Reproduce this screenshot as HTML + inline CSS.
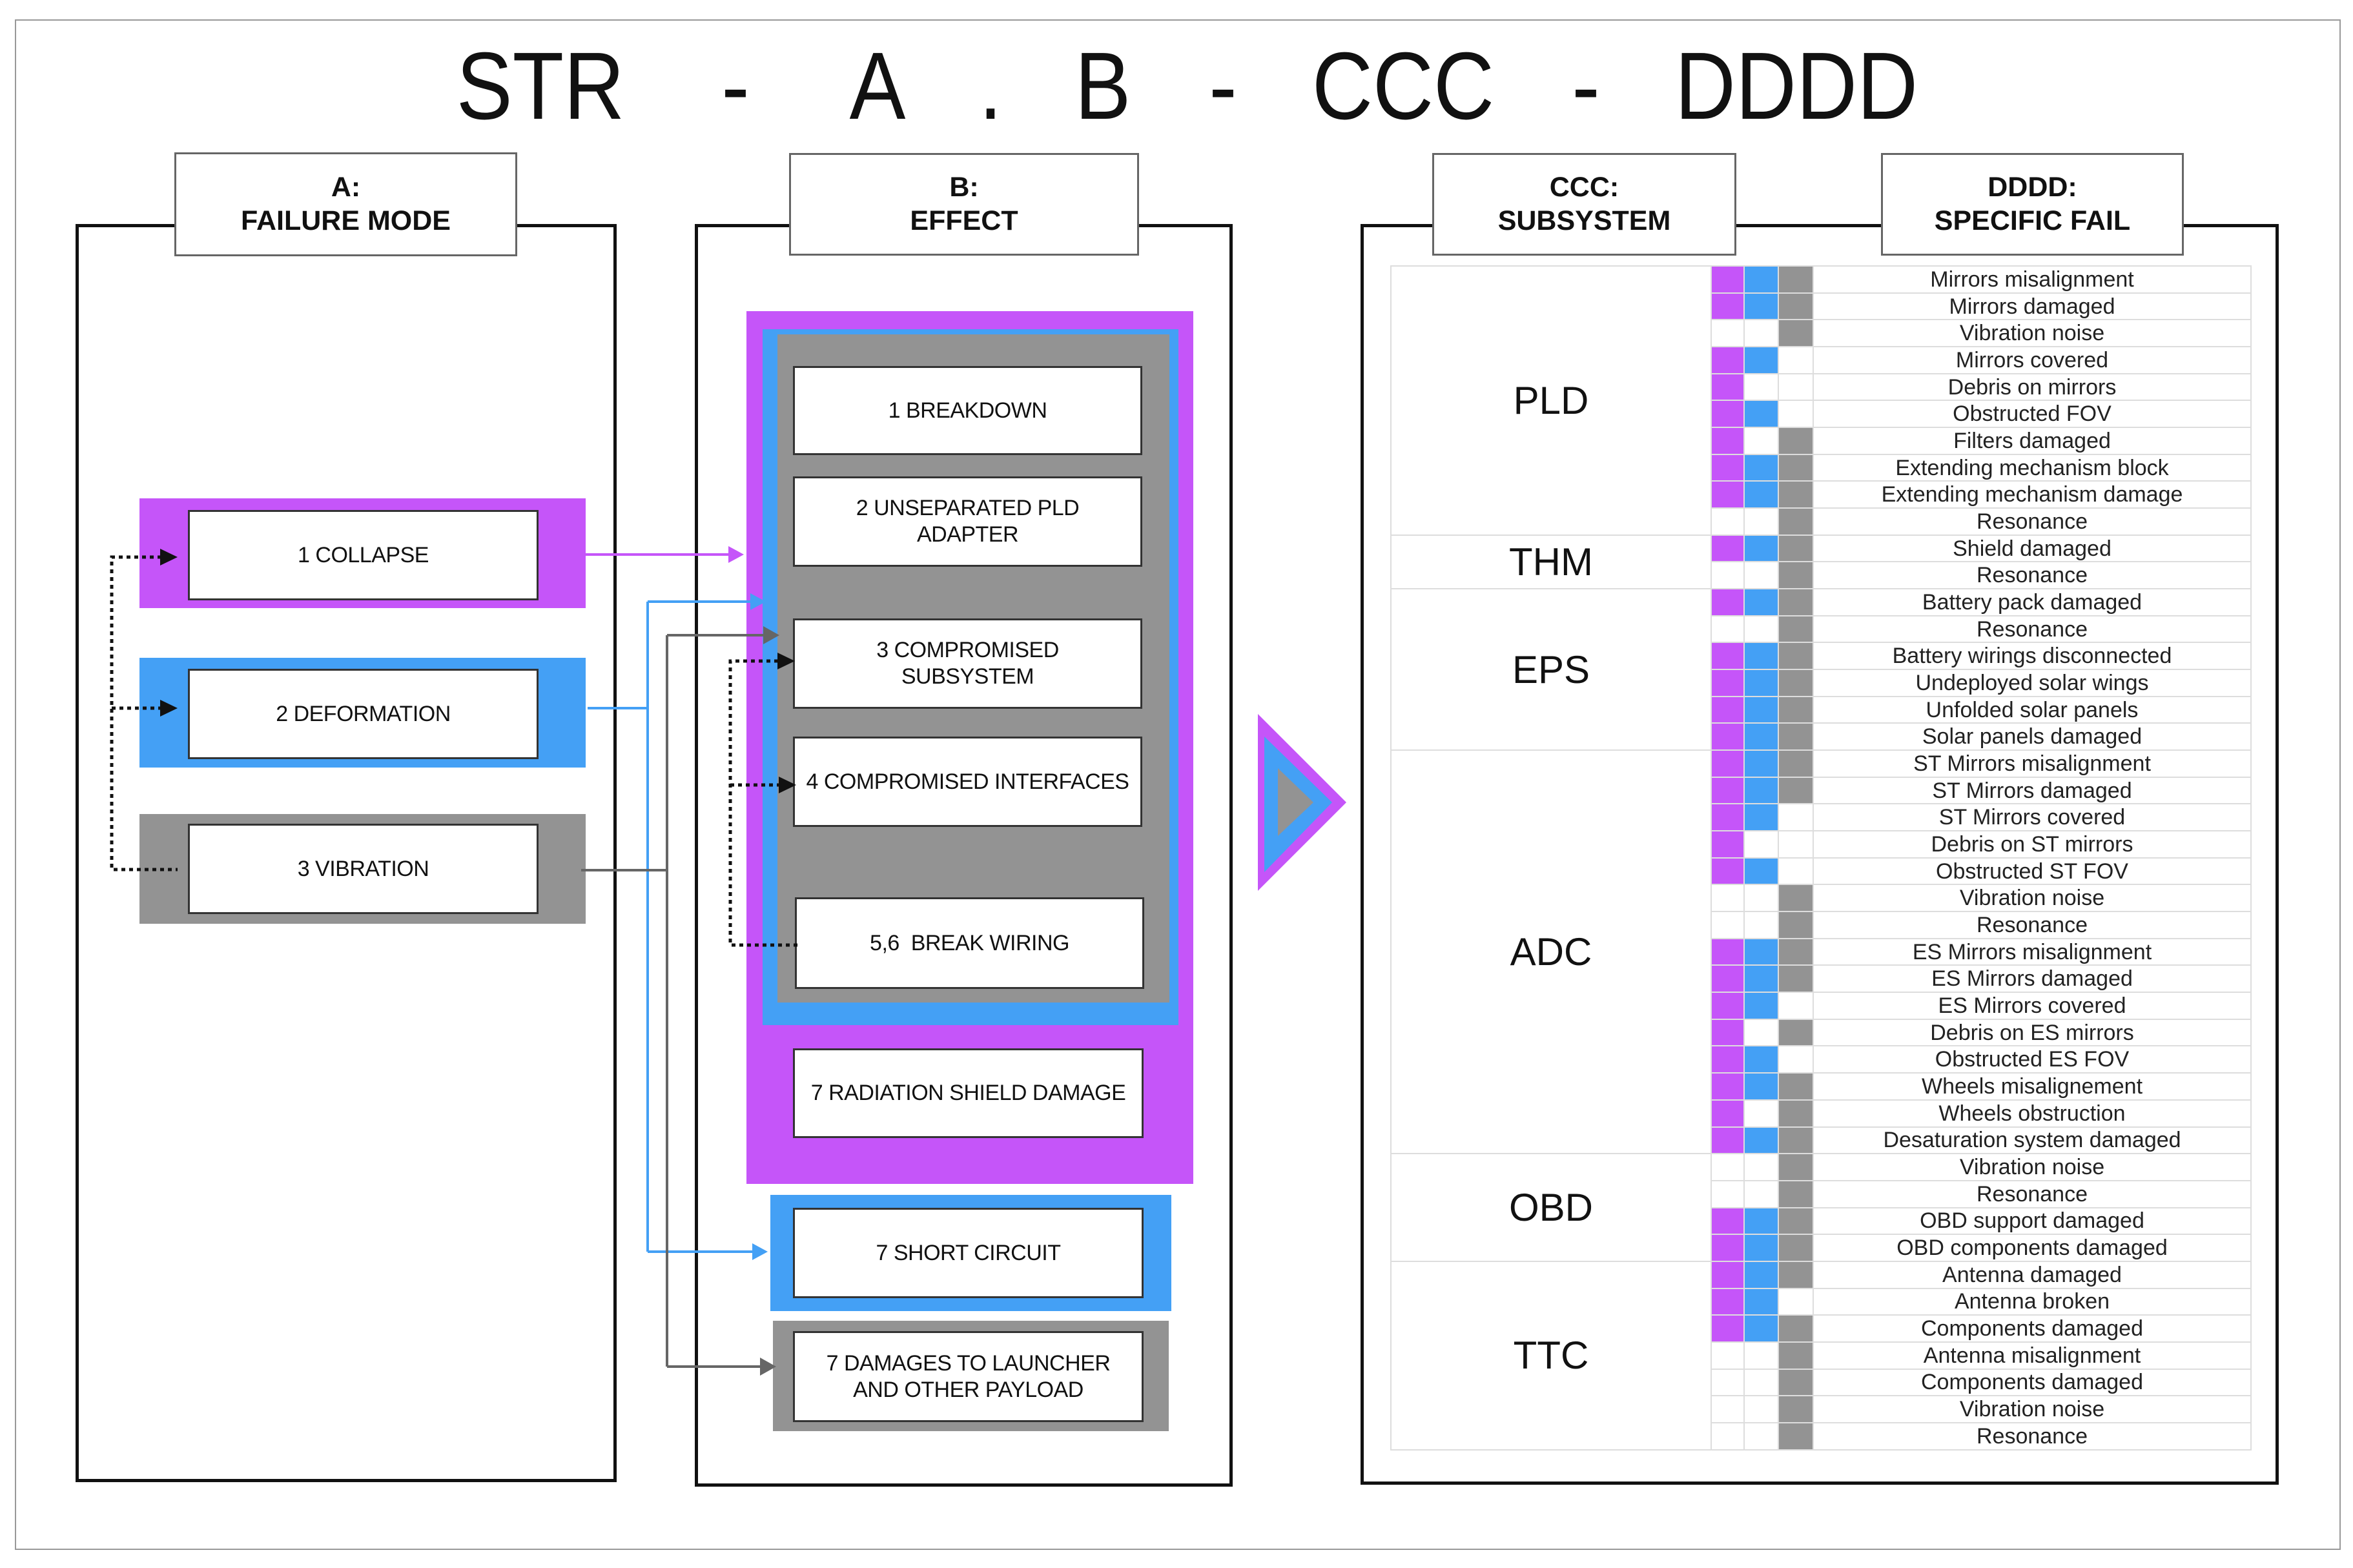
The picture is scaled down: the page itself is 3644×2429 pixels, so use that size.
<!DOCTYPE html>
<html><head><meta charset="utf-8"><style>
*{margin:0;padding:0;box-sizing:border-box}
body{width:3644px;height:2429px;background:#fff;position:relative;overflow:hidden;font-family:"Liberation Sans",Arial,sans-serif;color:#111}
.a{position:absolute}
.frame{position:absolute;left:23px;top:30px;width:3602px;height:2371px;border:2px solid #999}
.panel{position:absolute;border:5px solid #111;background:#fff}
.hdr{position:absolute;background:#fff;border:3px solid #666;display:flex;align-items:center;justify-content:center;text-align:center;font-weight:bold;font-size:43px;line-height:1.2}
.box{position:absolute;background:#fff;border:3px solid #333;display:flex;align-items:center;justify-content:center;text-align:center;font-size:34px;line-height:1.2;letter-spacing:-0.5px}
.P{background:#c555f9}.B{background:#44a0f5}.G{background:#939393}
.tt{position:absolute;top:81px;font-size:148px;line-height:105px;height:105px;transform:translateX(-50%) scaleX(0.88);white-space:nowrap}
table{position:absolute;left:2153px;top:411px;width:1332px;border-collapse:collapse;table-layout:fixed}
td{border:2px solid #ddd;height:41.68px;padding:0;text-align:center;vertical-align:middle}
td.t{font-size:34px;color:#222;white-space:nowrap;line-height:1}
td.c{font-size:60px;color:#111;background:#fff}
</style></head><body>
<div class="frame"></div>

<div class="tt" style="left:837px">STR</div>
<div class="tt" style="left:1139px">-</div>
<div class="tt" style="left:1359px">A</div>
<div class="tt" style="left:1534px">.</div>
<div class="tt" style="left:1708px">B</div>
<div class="tt" style="left:1894px">-</div>
<div class="tt" style="left:2173px">CCC</div>
<div class="tt" style="left:2456px">-</div>
<div class="tt" style="left:2782px">DDDD</div>

<div class="panel" style="left:117px;top:347px;width:838px;height:1949px"></div>
<div class="panel" style="left:1076px;top:347px;width:833px;height:1956px"></div>
<div class="panel" style="left:2107px;top:347px;width:1422px;height:1953px"></div>

<div class="hdr" style="left:270px;top:236px;width:531px;height:161px">A:<br>FAILURE MODE</div>
<div class="hdr" style="left:1222px;top:237px;width:542px;height:159px">B:<br>EFFECT</div>
<div class="hdr" style="left:2218px;top:237px;width:471px;height:159px">CCC:<br>SUBSYSTEM</div>
<div class="hdr" style="left:2913px;top:237px;width:469px;height:159px">DDDD:<br>SPECIFIC FAIL</div>

<div class="a P" style="left:216px;top:772px;width:691px;height:170px"></div>
<div class="box" style="left:291px;top:790px;width:543px;height:140px">1 COLLAPSE</div>
<div class="a B" style="left:216px;top:1019px;width:691px;height:170px"></div>
<div class="box" style="left:291px;top:1036px;width:543px;height:140px">2 DEFORMATION</div>
<div class="a G" style="left:216px;top:1261px;width:691px;height:170px"></div>
<div class="box" style="left:291px;top:1276px;width:543px;height:140px">3 VIBRATION</div>

<div class="a P" style="left:1156px;top:482px;width:692px;height:1352px"></div>
<div class="a B" style="left:1181px;top:510px;width:644px;height:1078px"></div>
<div class="a G" style="left:1204px;top:518px;width:607px;height:1035px"></div>
<div class="box" style="left:1228px;top:567px;width:541px;height:138px">1 BREAKDOWN</div>
<div class="box" style="left:1228px;top:738px;width:541px;height:140px">2 UNSEPARATED PLD<br>ADAPTER</div>
<div class="box" style="left:1228px;top:958px;width:541px;height:140px">3 COMPROMISED<br>SUBSYSTEM</div>
<div class="box" style="left:1228px;top:1141px;width:541px;height:140px">4 COMPROMISED INTERFACES</div>
<div class="box" style="left:1231px;top:1390px;width:541px;height:142px">5,6&nbsp; BREAK WIRING</div>
<div class="box" style="left:1228px;top:1624px;width:543px;height:139px">7 RADIATION SHIELD DAMAGE</div>
<div class="a B" style="left:1193px;top:1851px;width:621px;height:180px"></div>
<div class="box" style="left:1228px;top:1871px;width:543px;height:140px">7 SHORT CIRCUIT</div>
<div class="a G" style="left:1197px;top:2046px;width:613px;height:171px"></div>
<div class="box" style="left:1228px;top:2062px;width:543px;height:141px">7 DAMAGES TO LAUNCHER<br>AND OTHER PAYLOAD</div>

<svg class="a" style="left:0;top:0" width="3644" height="2429">
<polygon points="1948,1106 2085,1243 1948,1380" fill="#c555f9"/>
<polygon points="1958,1141 2063,1243 1958,1351" fill="#44a0f5"/>
<polygon points="1979,1190 2034,1243 1979,1295" fill="#939393"/>
<g stroke-width="4" fill="none">
<path d="M907,859 H1132" stroke="#c555f9"/>
<path d="M910,1097 H1003 M1003,932 V1939 M1003,932 H1165 M1003,1939 H1168" stroke="#44a0f5"/>
<path d="M900,1348 H1033 M1033,984 V2117 M1033,984 H1185 M1033,2117 H1180" stroke="#666"/>
<path d="M250,863 H173 V1347 H275 M173,1097 H250" stroke="#111" stroke-width="5" stroke-dasharray="6,6"/>
<path d="M1205,1024 H1131 V1464 H1235 M1131,1216 H1207" stroke="#111" stroke-width="5" stroke-dasharray="6,6"/>
</g>
<polygon points="1128,846 1152,859 1128,872" fill="#c555f9"/>
<polygon points="1162,919 1186,932 1162,945" fill="#44a0f5"/>
<polygon points="1165,1926 1189,1939 1165,1952" fill="#44a0f5"/>
<polygon points="1182,970 1207,984 1182,998" fill="#666"/>
<polygon points="1177,2103 1202,2117 1177,2131" fill="#666"/>
<polygon points="248,850 275,863 248,876" fill="#111"/>
<polygon points="248,1084 275,1097 248,1110" fill="#111"/>
<polygon points="1204,1011 1231,1024 1204,1037" fill="#111"/>
<polygon points="1206,1203 1233,1216 1206,1229" fill="#111"/>
</svg>

<table>
<colgroup><col style="width:496px"><col style="width:51px"><col style="width:53px"><col style="width:54px"><col style="width:678px"></colgroup>
<tr><td class="c" rowspan="10">PLD</td><td class="P"></td><td class="B"></td><td class="G"></td><td class="t">Mirrors misalignment</td></tr>
<tr><td class="P"></td><td class="B"></td><td class="G"></td><td class="t">Mirrors damaged</td></tr>
<tr><td></td><td></td><td class="G"></td><td class="t">Vibration noise</td></tr>
<tr><td class="P"></td><td class="B"></td><td></td><td class="t">Mirrors covered</td></tr>
<tr><td class="P"></td><td></td><td></td><td class="t">Debris on mirrors</td></tr>
<tr><td class="P"></td><td class="B"></td><td></td><td class="t">Obstructed FOV</td></tr>
<tr><td class="P"></td><td></td><td class="G"></td><td class="t">Filters damaged</td></tr>
<tr><td class="P"></td><td class="B"></td><td class="G"></td><td class="t">Extending mechanism block</td></tr>
<tr><td class="P"></td><td class="B"></td><td class="G"></td><td class="t">Extending mechanism damage</td></tr>
<tr><td></td><td></td><td class="G"></td><td class="t">Resonance</td></tr>
<tr><td class="c" rowspan="2">THM</td><td class="P"></td><td class="B"></td><td class="G"></td><td class="t">Shield damaged</td></tr>
<tr><td></td><td></td><td class="G"></td><td class="t">Resonance</td></tr>
<tr><td class="c" rowspan="6">EPS</td><td class="P"></td><td class="B"></td><td class="G"></td><td class="t">Battery pack damaged</td></tr>
<tr><td></td><td></td><td class="G"></td><td class="t">Resonance</td></tr>
<tr><td class="P"></td><td class="B"></td><td class="G"></td><td class="t">Battery wirings disconnected</td></tr>
<tr><td class="P"></td><td class="B"></td><td class="G"></td><td class="t">Undeployed solar wings</td></tr>
<tr><td class="P"></td><td class="B"></td><td class="G"></td><td class="t">Unfolded solar panels</td></tr>
<tr><td class="P"></td><td class="B"></td><td class="G"></td><td class="t">Solar panels damaged</td></tr>
<tr><td class="c" rowspan="15">ADC</td><td class="P"></td><td class="B"></td><td class="G"></td><td class="t">ST Mirrors misalignment</td></tr>
<tr><td class="P"></td><td class="B"></td><td class="G"></td><td class="t">ST Mirrors damaged</td></tr>
<tr><td class="P"></td><td class="B"></td><td></td><td class="t">ST Mirrors covered</td></tr>
<tr><td class="P"></td><td></td><td></td><td class="t">Debris on ST mirrors</td></tr>
<tr><td class="P"></td><td class="B"></td><td></td><td class="t">Obstructed ST FOV</td></tr>
<tr><td></td><td></td><td class="G"></td><td class="t">Vibration noise</td></tr>
<tr><td></td><td></td><td class="G"></td><td class="t">Resonance</td></tr>
<tr><td class="P"></td><td class="B"></td><td class="G"></td><td class="t">ES Mirrors misalignment</td></tr>
<tr><td class="P"></td><td class="B"></td><td class="G"></td><td class="t">ES Mirrors damaged</td></tr>
<tr><td class="P"></td><td class="B"></td><td></td><td class="t">ES Mirrors covered</td></tr>
<tr><td class="P"></td><td></td><td class="G"></td><td class="t">Debris on ES mirrors</td></tr>
<tr><td class="P"></td><td class="B"></td><td></td><td class="t">Obstructed ES FOV</td></tr>
<tr><td class="P"></td><td class="B"></td><td class="G"></td><td class="t">Wheels misalignement</td></tr>
<tr><td class="P"></td><td></td><td class="G"></td><td class="t">Wheels obstruction</td></tr>
<tr><td class="P"></td><td class="B"></td><td class="G"></td><td class="t">Desaturation system damaged</td></tr>
<tr><td class="c" rowspan="4">OBD</td><td></td><td></td><td class="G"></td><td class="t">Vibration noise</td></tr>
<tr><td></td><td></td><td class="G"></td><td class="t">Resonance</td></tr>
<tr><td class="P"></td><td class="B"></td><td class="G"></td><td class="t">OBD support damaged</td></tr>
<tr><td class="P"></td><td class="B"></td><td class="G"></td><td class="t">OBD components damaged</td></tr>
<tr><td class="c" rowspan="7">TTC</td><td class="P"></td><td class="B"></td><td class="G"></td><td class="t">Antenna damaged</td></tr>
<tr><td class="P"></td><td class="B"></td><td></td><td class="t">Antenna broken</td></tr>
<tr><td class="P"></td><td class="B"></td><td class="G"></td><td class="t">Components damaged</td></tr>
<tr><td></td><td></td><td class="G"></td><td class="t">Antenna misalignment</td></tr>
<tr><td></td><td></td><td class="G"></td><td class="t">Components damaged</td></tr>
<tr><td></td><td></td><td class="G"></td><td class="t">Vibration noise</td></tr>
<tr><td></td><td></td><td class="G"></td><td class="t">Resonance</td></tr>
</table>
</body></html>
